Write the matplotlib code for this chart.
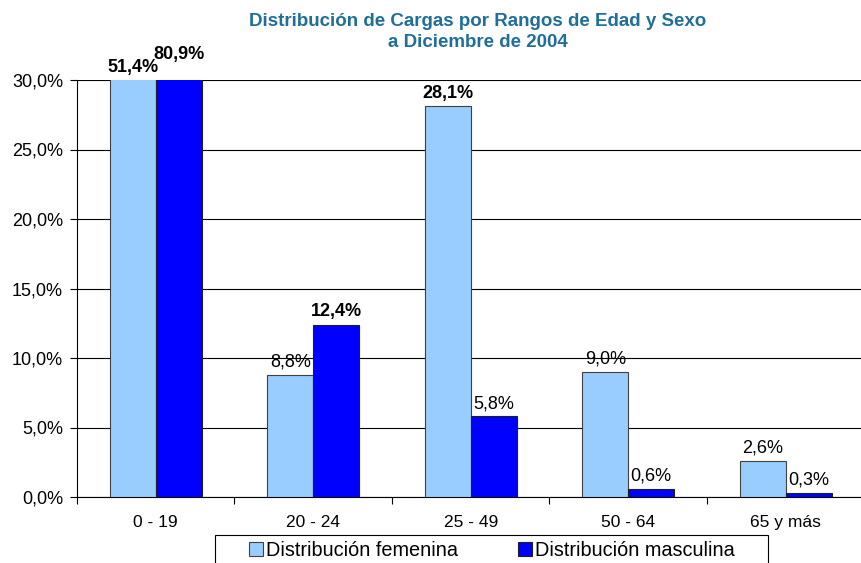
import matplotlib
matplotlib.use('Agg')
import matplotlib.pyplot as plt
from matplotlib.patches import Rectangle
import numpy as np

plt.rcParams['font.family'] = ['Liberation Sans', 'DejaVu Sans']

# --- data --- #
categorias = ['0 - 19', '20 - 24', '25 - 49', '50 - 64', '65 y más']
femenina = [51.4, 8.8, 28.1, 9.0, 2.6]
masculina = [80.9, 12.4, 5.8, 0.6, 0.3]
fem_bold = [True, False, True, False, False]
masc_bold = [True, True, False, False, False]
yticks = [0, 5, 10, 15, 20, 25, 30]

ymax = 30
azul_claro = '#99CCFF'
azul = '#0000FF'
titulo_color = '#1F6F9A'


def pct(v):
    return f'{v:.1f}%'.replace('.', ',')


fig = plt.figure(figsize=(8.62, 5.63), dpi=100)
ax = fig.add_axes([77 / 862, 1 - 497 / 563, 787.5 / 862, 417 / 563])

x = np.arange(len(categorias))
w = 0.292
b1 = ax.bar(x - w / 2, femenina, w, color=azul_claro, edgecolor='#404040', linewidth=0.8,
            label='Distribución femenina', zorder=3)
b2 = ax.bar(x + w / 2, masculina, w, color=azul, edgecolor='#202020', linewidth=0.8,
            label='Distribución masculina', zorder=3)

# value labels (bars above 30% are cut, label sits above the frame)
for bars, vals, bolds, extra in [(b1, femenina, fem_bold, 0), (b2, masculina, masc_bold, 9)]:
    for rect, v, bd in zip(bars, vals, bolds):
        cx = rect.get_x() + rect.get_width() / 2
        top = min(v, ymax)
        dy = 3 + (extra if v > ymax else 0)
        ax.annotate(pct(v), (cx, top), xytext=(0, dy), textcoords='offset points',
                    ha='center', va='bottom', fontsize=13,
                    fontweight='bold' if bd else 'normal', annotation_clip=False, zorder=5)

ax.set_ylim(0, ymax)
ax.set_xlim(-0.5, len(categorias) - 0.5)
ax.set_yticks(yticks)
ax.set_yticklabels([pct(t) for t in yticks], fontsize=13)
ax.yaxis.grid(True, color='black', linewidth=0.8, zorder=0)
ax.set_axisbelow(True)

# category labels centred, tick marks at group borders
ax.set_xticks(x)
ax.set_xticklabels(categorias, fontsize=12.5)
ax.tick_params(axis='x', length=0, pad=13)
ax.set_xticks(np.arange(len(categorias) + 1) - 0.5, minor=True)
ax.tick_params(axis='x', which='minor', length=5, width=0.8)
ax.tick_params(axis='y', length=5, width=0.8, pad=5)

for s in ['top', 'right']:
    ax.spines[s].set_visible(False)
for s in ['left', 'bottom']:
    ax.spines[s].set_linewidth(0.8)

fig.text(478 / 862, 1 - 32 / 563, 'Distribución de Cargas por Rangos de Edad y Sexo\na Diciembre de 2004',
         ha='center', va='center', fontsize=13.5, fontweight='bold', color=titulo_color, linespacing=1.35)

# legend box runs off the bottom of the picture
fig.patches.append(Rectangle((215 / 862, -0.05), 553 / 862, 0.05 + 1 - 535 / 563,
                             transform=fig.transFigure, facecolor='white', edgecolor='black',
                             linewidth=0.8, zorder=1))
fig.legend(handles=[b1, b2], loc='upper center', bbox_to_anchor=(492 / 862, 1 - 541 / 563),
           ncol=2, fontsize=14.3, frameon=False,
           handlelength=0.72, handleheight=0.72, handletextpad=0.15, columnspacing=3.0,
           borderpad=0, borderaxespad=0)

fig.savefig('out.png', dpi=100)
